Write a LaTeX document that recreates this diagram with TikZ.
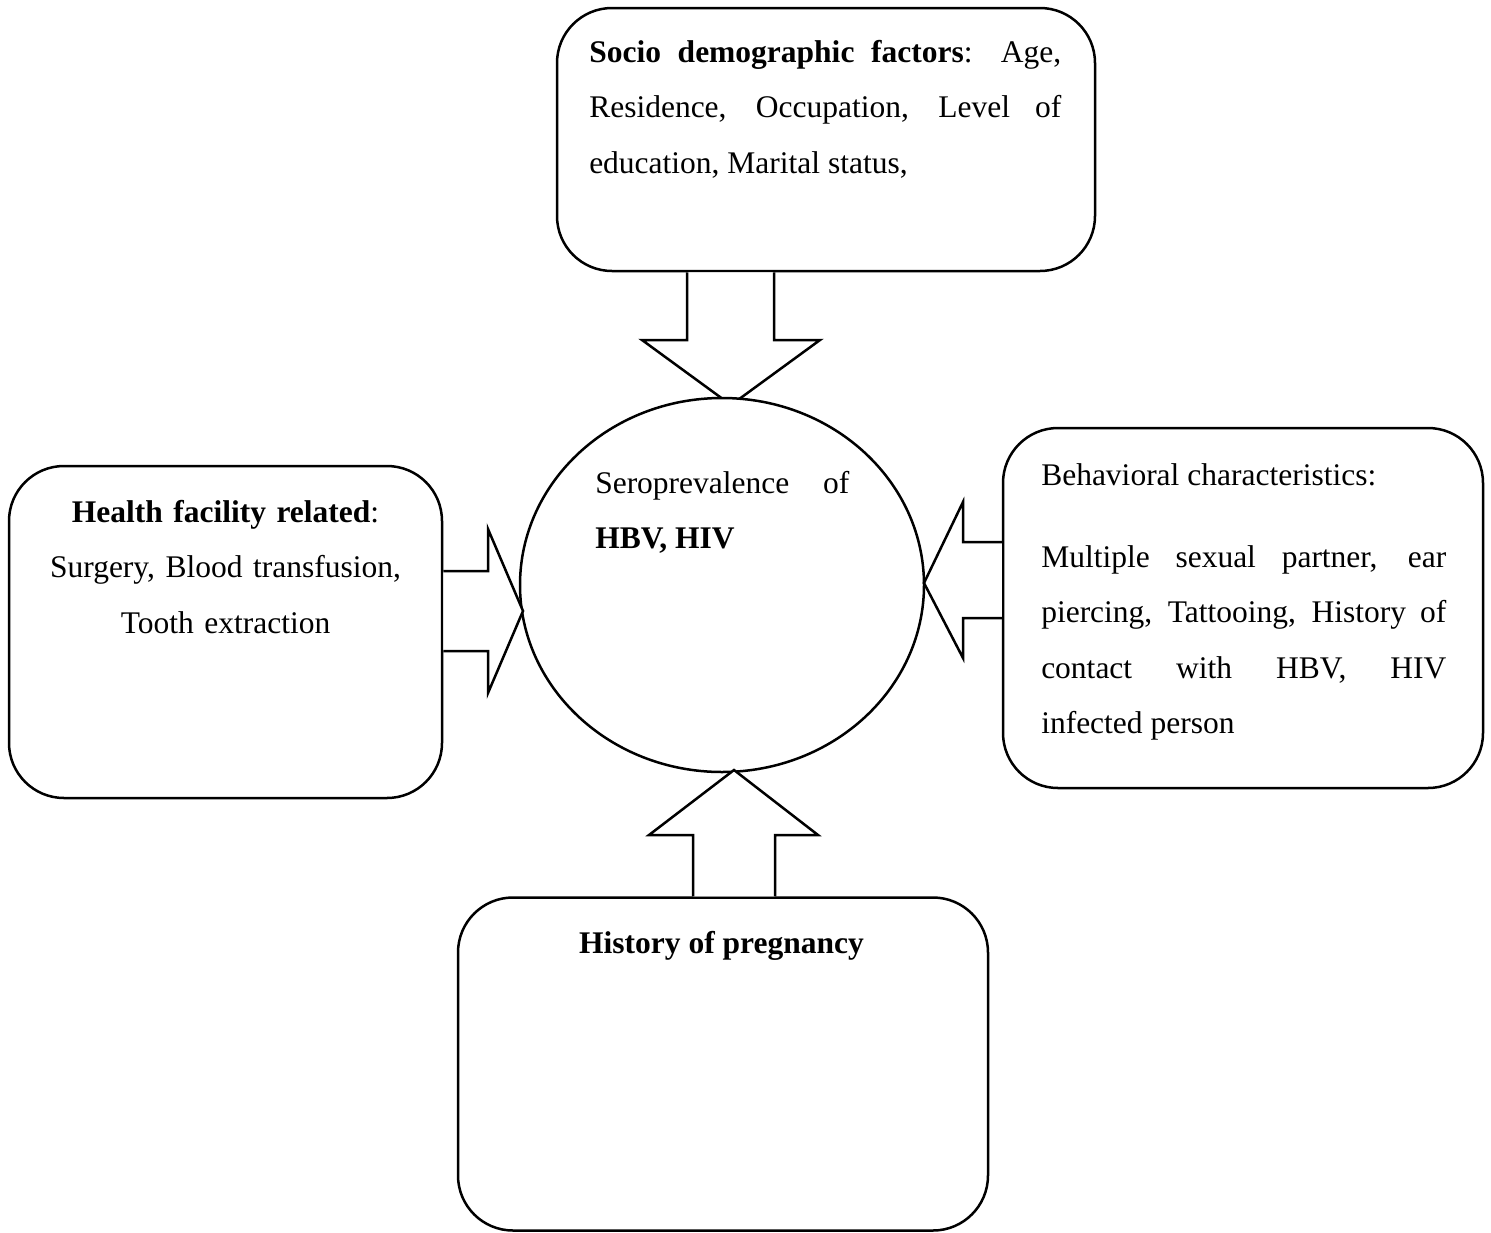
\documentclass[tikz,border=0pt]{standalone}
\usepackage{fontspec}
\setmainfont{Liberation Serif}
\usetikzlibrary{shapes.geometric}
\newcommand\boxfont{\fontsize{31.5}{55.5}\selectfont\tolerance=10000\hyphenpenalty=10000\relax}

\begin{document}
\begin{tikzpicture}[x=1pt,y=-1pt,line width=2.5pt,
    factorbox/.style={rectangle,draw,rounded corners=55pt,inner sep=0pt},
    hollowarrow/.style={draw,fill=white,line join=miter},
    txt/.style={inner sep=0pt,font=\boxfont}]
  \useasboundingbox (0,0) rectangle (1491,1232);
  % the four factor boxes
  \node[factorbox,minimum width=538pt,minimum height=263pt] (tbox) at (826,139.5) {};
  \node[factorbox,minimum width=433pt,minimum height=332pt] (lbox) at (225.5,632) {};
  \node[factorbox,minimum width=480pt,minimum height=360pt] (rbox) at (1243,608) {};
  \node[factorbox,minimum width=530pt,minimum height=333pt] (bbox) at (723,1064) {};
  % arrow from the top box
  \draw[hollowarrow] (687,0 |- tbox.south) -- (687,340) -- (642,340) -- (731,405)
    -- (820,340) -- (774,340) -- (774,0 |- tbox.south);
  % the outcome in the middle
  \node[ellipse,draw,fill=white,inner sep=0pt,minimum width=404pt,minimum height=374pt] (hub) at (722,585) {};
  % arrows from the other boxes
  \draw[hollowarrow] (lbox.east |- 0,571) -- (488,571) -- (488,529) -- (523,611)
    -- (488,693) -- (488,651) -- (lbox.east |- 0,651);
  \draw[hollowarrow] (rbox.west |- 0,542) -- (963,542) -- (963,502) -- (924,583)
    -- (963,658) -- (963,618) -- (rbox.west |- 0,618);
  \draw[hollowarrow] (693,0 |- bbox.north) -- (693,835) -- (649,835) -- (734,770)
    -- (818,835) -- (775,835) -- (775,0 |- bbox.north);
  % texts
  \node[txt,text width=472pt,align=justify,anchor=base west] (ttext) at (588,62)
    {\textbf{Socio demographic factors}: Age,\linebreak Residence, Occupation, Level of\linebreak education, Marital status,};
  \node[txt,text width=433pt,align=center,anchor=base] (ltext) at (225.5,522)
    {\textbf{Health facility related}:\\ Surgery, Blood transfusion,\\ Tooth extraction};
  \node[txt,anchor=base west] (rtitle) at (1040,485) {Behavioral characteristics:};
  \node[txt,text width=405pt,align=justify,anchor=base west] (rtext) at (1040,567)
    {Multiple sexual partner, ear\linebreak piercing, Tattooing, History of\linebreak contact with HBV, HIV\linebreak infected person};
  \node[txt,text width=254pt,align=justify,anchor=base west] (htext) at (594,493)
    {Seroprevalence of\linebreak \textbf{HBV, HIV}};
  \node[txt,anchor=base] (btext) at (721.5,953) {\textbf{History of pregnancy}};
\end{tikzpicture}
\end{document}
